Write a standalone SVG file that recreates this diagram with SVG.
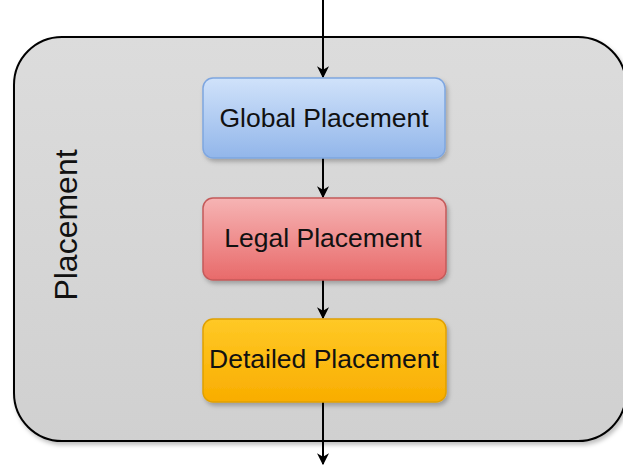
<svg xmlns="http://www.w3.org/2000/svg" width="623" height="465" viewBox="0 0 623 465">
<style>
.lbl{font-family:"Liberation Sans",Arial,sans-serif;font-size:26.5px;fill:#111;text-anchor:middle}
.big{font-family:"Liberation Sans",Arial,sans-serif;font-size:32px;fill:#111;text-anchor:middle}
.conn{stroke:#000;stroke-width:2;fill:none}
</style>
<defs>
<linearGradient id="gOuter" x1="0" y1="0" x2="0" y2="1"><stop offset="0" stop-color="#dcdcdc"/><stop offset="1" stop-color="#d0d0d0"/></linearGradient>
<linearGradient id="gBlue" x1="0" y1="0" x2="0" y2="1"><stop offset="0" stop-color="#d0e2fa"/><stop offset="1" stop-color="#92b6ea"/></linearGradient>
<linearGradient id="gRed" x1="0" y1="0" x2="0" y2="1"><stop offset="0" stop-color="#f6b4b4"/><stop offset="1" stop-color="#e86a6a"/></linearGradient>
<linearGradient id="gOrange" x1="0" y1="0" x2="0" y2="1"><stop offset="0" stop-color="#ffc926"/><stop offset="1" stop-color="#f9ad00"/></linearGradient>
<filter id="sh" x="-10%" y="-10%" width="125%" height="130%"><feDropShadow dx="2" dy="3" stdDeviation="2" flood-color="#000" flood-opacity="0.25"/></filter>
<marker id="arr" viewBox="0 0 10 10" refX="9" refY="5" markerWidth="14" markerHeight="12" orient="auto" markerUnits="userSpaceOnUse"><path d="M0,0 L10,5 L0,10 L3,5 z" fill="#000"/></marker>
</defs>
<rect width="623" height="465" fill="#fff"/>
<g id="placement">
<rect x="14" y="37" width="612" height="404" rx="48" ry="48" fill="url(#gOuter)" stroke="#000" stroke-width="2" filter="url(#sh)"/>
<text class="big" transform="translate(77,225) rotate(-90)">Placement</text>
</g>
<g id="connectors">
<line class="conn" x1="323" y1="0" x2="323" y2="77" marker-end="url(#arr)"/>
<line class="conn" x1="323" y1="158" x2="323" y2="197" marker-end="url(#arr)"/>
<line class="conn" x1="323" y1="280" x2="323" y2="318" marker-end="url(#arr)"/>
<line class="conn" x1="323" y1="402" x2="323" y2="464" marker-end="url(#arr)"/>
</g>
<g id="global">
<rect x="203" y="78" width="242" height="80" rx="10" fill="url(#gBlue)" stroke="#7ea6e0" stroke-width="1.5" filter="url(#sh)"/>
<text class="lbl" x="324" y="127">Global Placement</text>
</g>
<g id="legal">
<rect x="203" y="198" width="243" height="82" rx="10" fill="url(#gRed)" stroke="#c45a5a" stroke-width="1.5" filter="url(#sh)"/>
<text class="lbl" x="323" y="247">Legal Placement</text>
</g>
<g id="detailed">
<rect x="203" y="319" width="243" height="83" rx="10" fill="url(#gOrange)" stroke="#e0a000" stroke-width="1.5" filter="url(#sh)"/>
<text class="lbl" x="324" y="368">Detailed Placement</text>
</g>
</svg>
